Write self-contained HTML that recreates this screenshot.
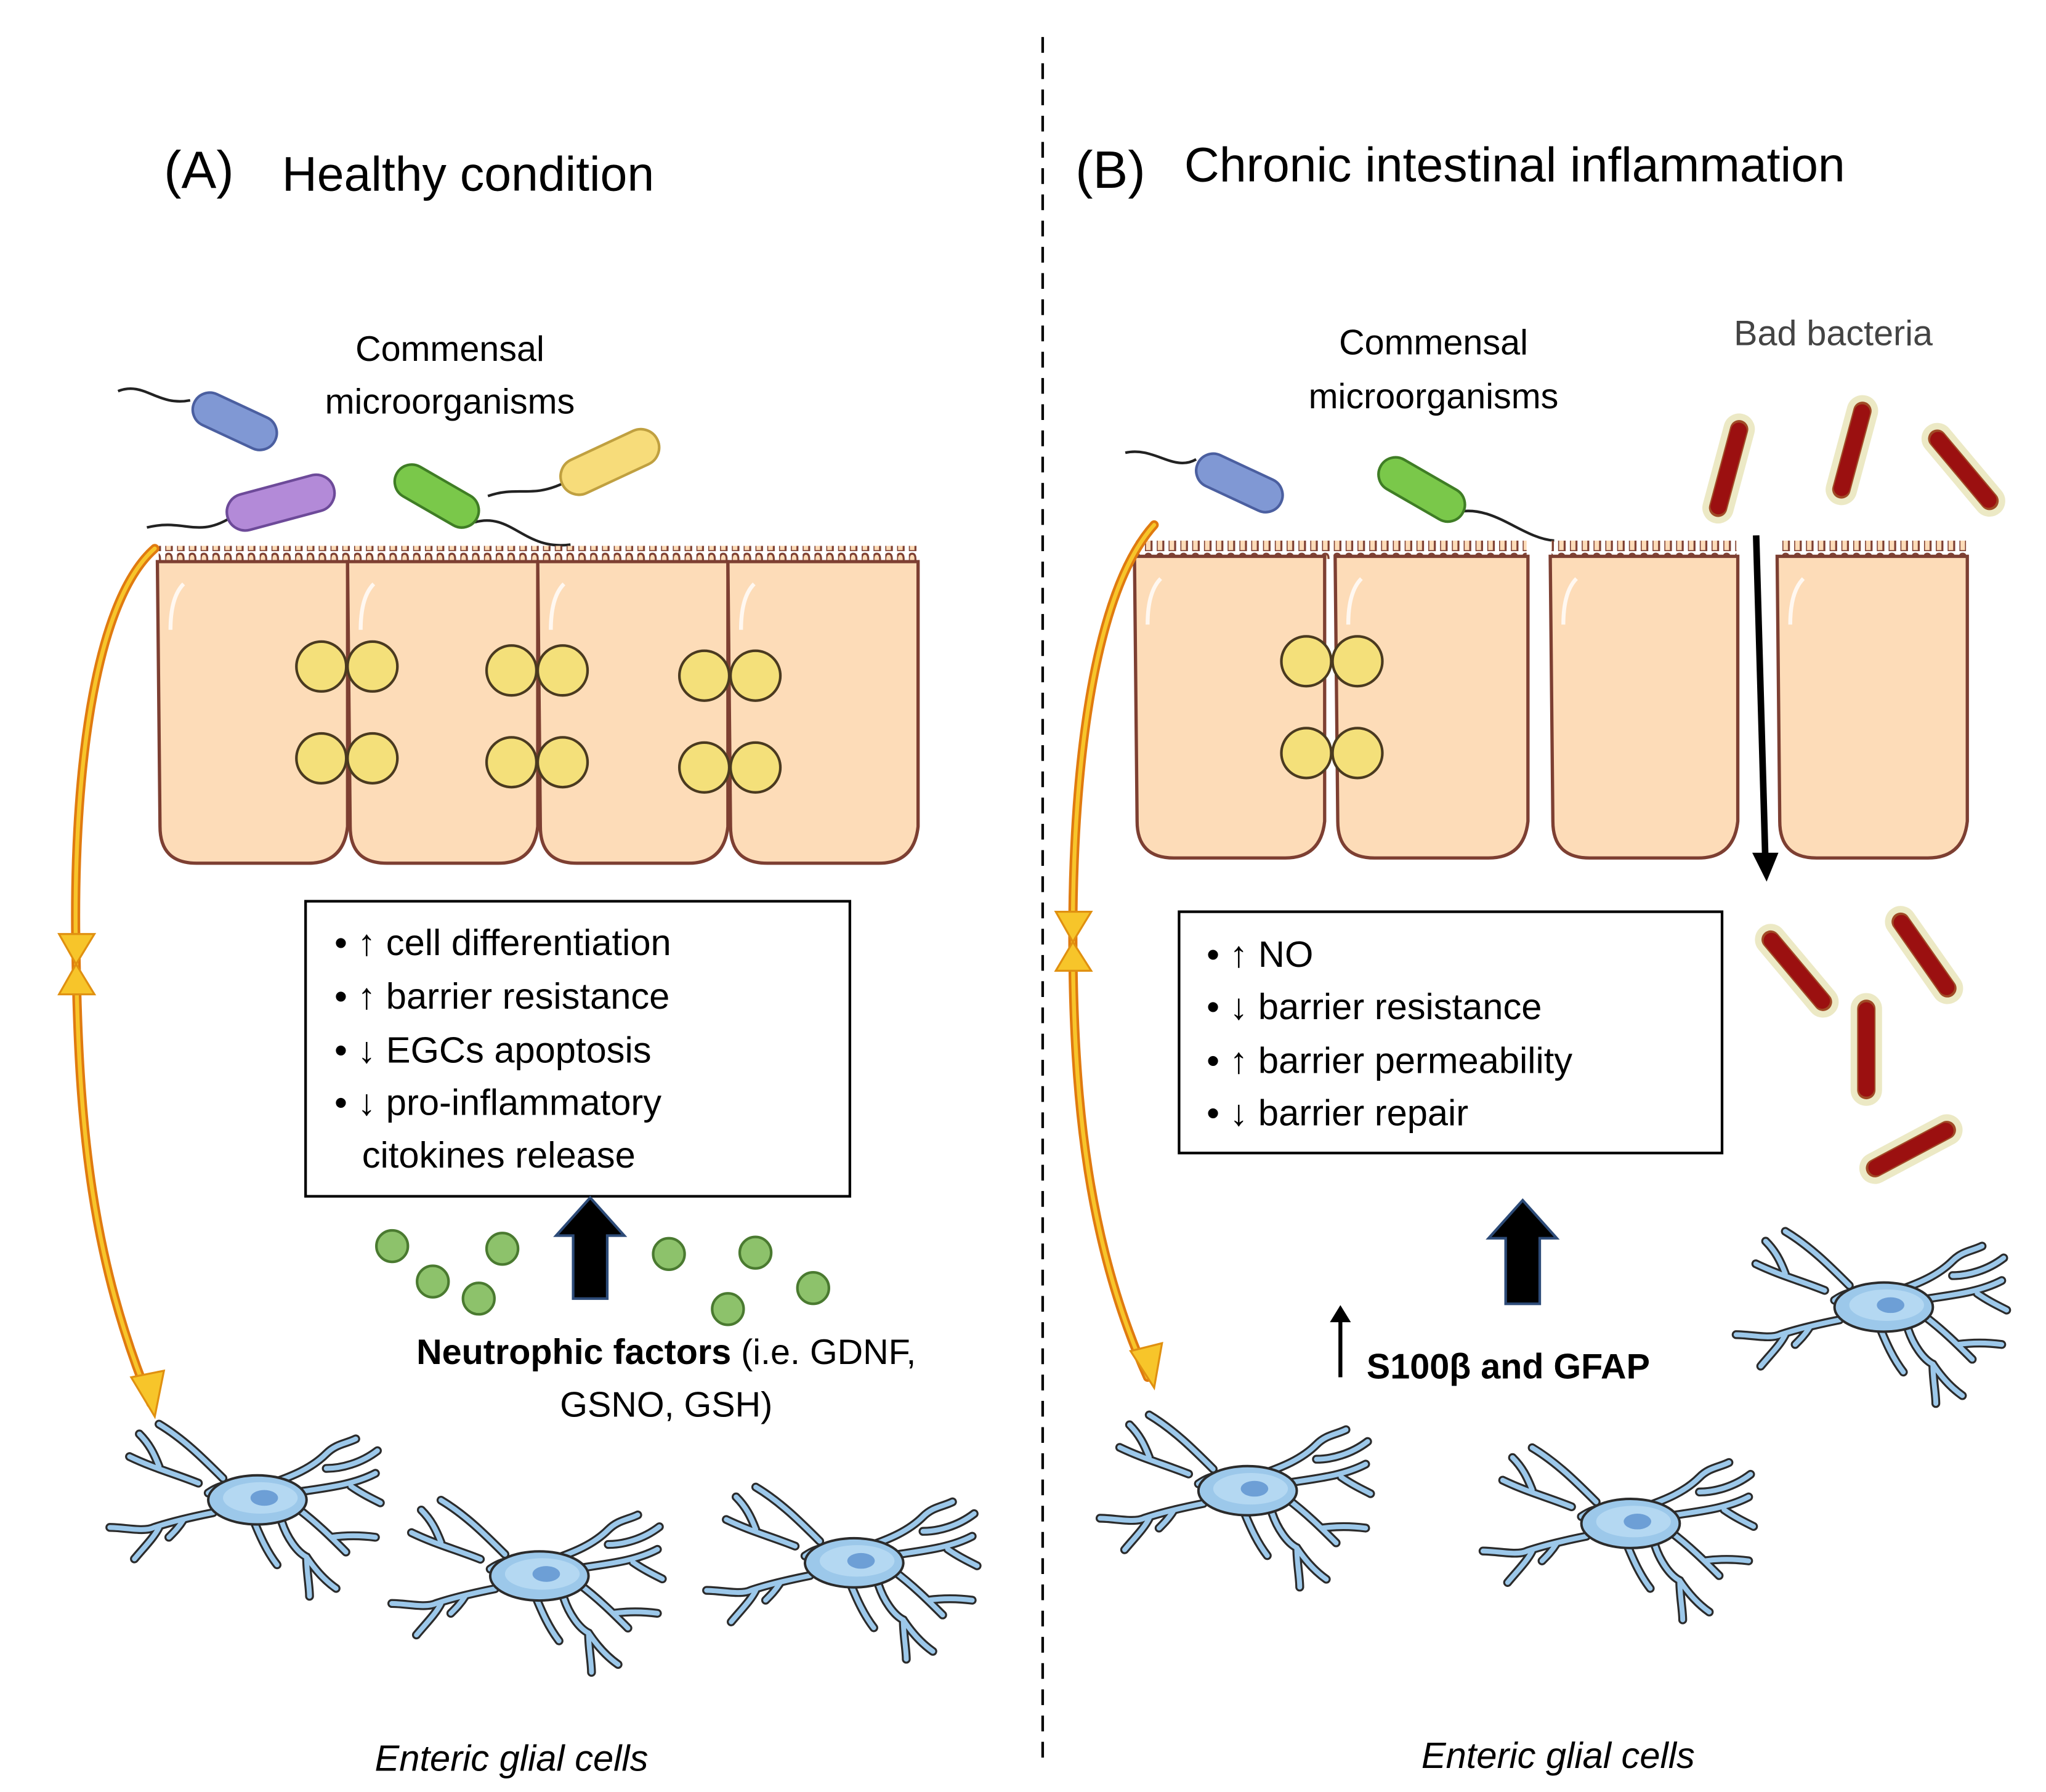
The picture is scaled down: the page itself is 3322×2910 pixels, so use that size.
<!DOCTYPE html>
<html><head><meta charset="utf-8"><style>
html,body{margin:0;padding:0;background:#fff}
svg{display:block}
text{font-family:"Liberation Sans","DejaVu Sans",sans-serif}
</style></head><body>
<svg width="3322" height="2910" viewBox="0 0 1560 1366" xmlns="http://www.w3.org/2000/svg">
<defs>
<pattern id="villi" x="0" y="0" width="9" height="14" patternUnits="userSpaceOnUse">
 <path d="M0,14 L0,6 Q0,2 2.5,2 Q5,2 5,6 L5,14 Z" fill="#fddcb8" stroke="#7d3f32" stroke-width="1.5"/>
</pattern>
<g id="glia">
  <g id="br">
   <path d="M-20,-20 C-40,-40 -60,-60 -85,-75"/>
   <path d="M-45,-15 C-70,-25 -90,-30 -115,-42"/>
   <path d="M-85,-32 C-90,-45 -95,-55 -105,-65"/>
   <path d="M-35,-5 C-25,-12 -15,-15 -5,-12"/>
   <path d="M-30,15 C-55,20 -75,25 -90,30 C-100,35 -120,30 -135,30"/>
   <path d="M-85,30 C-90,40 -100,50 -110,62"/>
   <path d="M-60,22 C-65,30 -70,35 -75,40"/>
   <path d="M10,20 C18,40 25,55 35,68"/>
   <path d="M40,25 C45,40 55,55 65,60 C75,75 85,85 95,92"/>
   <path d="M65,60 C65,75 68,90 68,100"/>
   <path d="M30,-15 C50,-22 70,-30 85,-45 C95,-55 105,-55 115,-60"/>
   <path d="M85,-30 C100,-30 120,-35 137,-48"/>
   <path d="M50,-5 C80,-10 110,-12 135,-25"/>
   <path d="M110,-12 C120,-5 130,0 140,5"/>
   <path d="M55,10 C75,25 90,40 105,55"/>
   <path d="M90,40 C105,38 120,38 135,40"/>
  </g>
</g>
<g id="gl">
 <use href="#br" stroke="#2b2b2b" stroke-width="9" fill="none" stroke-linecap="round"/>
 <use href="#br" stroke="#9cc8ea" stroke-width="5" fill="none" stroke-linecap="round"/>
 <ellipse cx="15" cy="2" rx="50" ry="25" fill="#9cc8ea" stroke="#2b2b2b" stroke-width="2.5"/>
 <ellipse cx="18" cy="0" rx="38" ry="16" fill="#b4d8f2"/>
 <ellipse cx="22" cy="0" rx="14" ry="8" fill="#6d9fd6"/>
</g>
<g id="rod"><rect x="-7" y="-38" width="14" height="76" rx="7" fill="#8a0c0c" stroke="#c9c05a" stroke-width="10" stroke-opacity="0.35"/><rect x="-6" y="-36" width="12" height="72" rx="6" fill="#9b1010"/></g>
</defs>

<line x1="795" y1="28" x2="795" y2="1340" stroke="#000" stroke-width="2" stroke-dasharray="12,8"/>

<text x="125" y="143" font-size="40">(A)</text>
<text x="215" y="145" font-size="37">Healthy condition</text>
<text x="820" y="143" font-size="40">(B)</text>
<text x="903" y="138" font-size="37">Chronic intestinal inflammation</text>

<text x="343" y="275" font-size="27" text-anchor="middle">Commensal</text>
<text x="343" y="315" font-size="27" text-anchor="middle">microorganisms</text>
<text x="1093" y="270" font-size="27" text-anchor="middle">Commensal</text>
<text x="1093" y="311" font-size="27" text-anchor="middle">microorganisms</text>
<text x="1322" y="263" font-size="27" fill="#444">Bad bacteria</text>

<g stroke-width="2">
 <path d="M90,298 C110,290 120,310 145,305" fill="none" stroke="#222"/>
 <rect x="145" y="308" width="68" height="26" rx="13" fill="#8098d4" stroke="#4b5fa0" transform="rotate(25 179 321)"/>
 <path d="M112,402 C140,395 150,410 175,395" fill="none" stroke="#222"/>
 <rect x="172" y="369" width="84" height="28" rx="14" fill="#b38ad8" stroke="#6d4a99" transform="rotate(-15 214 383)"/>
 <path d="M362,398 C390,390 400,420 435,415" fill="none" stroke="#222"/>
 <rect x="298" y="365" width="70" height="26" rx="13" fill="#7ac84a" stroke="#3f7d25" transform="rotate(30 333 378)"/>
 <path d="M372,378 C395,370 405,380 430,368" fill="none" stroke="#222"/>
 <rect x="425" y="338" width="80" height="28" rx="14" fill="#f7dc7a" stroke="#c0a040" transform="rotate(-25 465 352)"/>
 <path d="M858,345 C880,340 895,360 912,350" fill="none" stroke="#222"/>
 <rect x="910" y="355" width="70" height="26" rx="13" fill="#8098d4" stroke="#4b5fa0" transform="rotate(25 945 368)"/>
 <path d="M1112,390 C1140,385 1160,410 1185,412" fill="none" stroke="#222"/>
 <rect x="1048" y="360" width="72" height="26" rx="13" fill="#7ac84a" stroke="#3f7d25" transform="rotate(30 1084 373)"/>
</g>

<!-- microvilli -->
<rect x="121" y="416" width="579" height="14" fill="url(#villi)"/>
<rect x="866" y="412" width="298" height="14" fill="url(#villi)"/>
<rect x="1183" y="412" width="141" height="14" fill="url(#villi)"/>
<rect x="1356" y="412" width="143" height="14" fill="url(#villi)"/>

<g fill="#fddcb8" stroke="#7d3f32" stroke-width="2.5">
 <path d="M120,428 L265,428 L265,630 Q262,658 235,658 L150,658 Q122,658 122,630 Z"/>
 <path d="M265,428 L410,428 L410,630 Q407,658 380,658 L295,658 Q267,658 267,630 Z"/>
 <path d="M410,428 L555,428 L555,630 Q552,658 525,658 L440,658 Q412,658 412,630 Z"/>
 <path d="M555,428 L700,428 L700,630 Q697,658 670,658 L585,658 Q557,658 557,630 Z"/>
 <path d="M865,424 L1010,424 L1010,626 Q1007,654 980,654 L895,654 Q867,654 867,626 Z"/>
 <path d="M1018,424 L1165,424 L1165,626 Q1162,654 1135,654 L1048,654 Q1020,654 1020,626 Z"/>
 <path d="M1182,424 L1325,424 L1325,626 Q1322,654 1295,654 L1212,654 Q1184,654 1184,626 Z"/>
 <path d="M1355,424 L1500,424 L1500,626 Q1497,654 1470,654 L1385,654 Q1357,654 1357,626 Z"/>
</g>
<g fill="none" stroke="#fff" stroke-width="3" opacity="0.8">
 <path d="M140,445 Q130,455 130,480"/><path d="M285,445 Q275,455 275,480"/><path d="M430,445 Q420,455 420,480"/><path d="M575,445 Q565,455 565,480"/>
 <path d="M885,441 Q875,451 875,476"/><path d="M1038,441 Q1028,451 1028,476"/><path d="M1202,441 Q1192,451 1192,476"/><path d="M1375,441 Q1365,451 1365,476"/>
</g>

<g fill="#f4e07a" stroke="#4a3a20" stroke-width="2">
 <circle cx="245" cy="508" r="19"/><circle cx="284" cy="508" r="19"/>
 <circle cx="245" cy="578" r="19"/><circle cx="284" cy="578" r="19"/>
 <circle cx="390" cy="511" r="19"/><circle cx="429" cy="511" r="19"/>
 <circle cx="390" cy="581" r="19"/><circle cx="429" cy="581" r="19"/>
 <circle cx="537" cy="515" r="19"/><circle cx="576" cy="515" r="19"/>
 <circle cx="537" cy="585" r="19"/><circle cx="576" cy="585" r="19"/>
 <circle cx="996" cy="504" r="19"/><circle cx="1035" cy="504" r="19"/>
 <circle cx="996" cy="574" r="19"/><circle cx="1035" cy="574" r="19"/>
</g>

<g fill="none" stroke-linecap="round">
 <path d="M118,418 C70,460 55,600 58,730 C60,860 70,960 115,1070" stroke="#e07a10" stroke-width="7"/>
 <path d="M118,418 C70,460 55,600 58,730 C60,860 70,960 115,1070" stroke="#f7c52a" stroke-width="3"/>
 <path d="M880,400 C835,450 818,580 818,712 C818,840 830,950 875,1050" stroke="#e07a10" stroke-width="7"/>
 <path d="M880,400 C835,450 818,580 818,712 C818,840 830,950 875,1050" stroke="#f7c52a" stroke-width="3"/>
</g>
<g fill="#f7c52a" stroke="#e09010" stroke-width="1.5">
 <polygon points="45,712 72,712 58,735"/><polygon points="45,758 72,758 58,735"/>
 <polygon points="805,695 832,695 818,718"/><polygon points="805,740 832,740 818,718"/>
 <polygon points="100,1050 125,1045 118,1080"/>
 <polygon points="862,1030 886,1024 880,1058"/>
</g>

<rect x="233" y="687" width="415" height="225" fill="#fff" stroke="#000" stroke-width="2"/>
<g font-size="28">
 <text x="255" y="728">•  ↑ cell differentiation</text>
 <text x="255" y="769">•  ↑ barrier resistance</text>
 <text x="255" y="810">•  ↓ EGCs apoptosis</text>
 <text x="255" y="850">•  ↓ pro-inflammatory</text>
 <text x="276" y="890">citokines release</text>
</g>
<rect x="899" y="695" width="414" height="184" fill="#fff" stroke="#000" stroke-width="2"/>
<g font-size="28">
 <text x="920" y="737">•  ↑ NO</text>
 <text x="920" y="777">•  ↓ barrier resistance</text>
 <text x="920" y="818">•  ↑ barrier permeability</text>
 <text x="920" y="858">•  ↓ barrier repair</text>
</g>

<g fill="#8dc26b" stroke="#4a7a30" stroke-width="2">
 <circle cx="299" cy="950" r="12"/><circle cx="330" cy="977" r="12"/><circle cx="365" cy="990" r="12"/><circle cx="383" cy="952" r="12"/>
 <circle cx="510" cy="956" r="12"/><circle cx="576" cy="955" r="12"/><circle cx="620" cy="982" r="12"/><circle cx="555" cy="998" r="12"/>
</g>

<polygon points="450,913 476,942 463,942 463,990 437,990 437,942 424,942" fill="#000" stroke="#2d4b78" stroke-width="2"/>
<polygon points="1161,915 1187,944 1174,944 1174,994 1148,994 1148,944 1135,944" fill="#000" stroke="#2d4b78" stroke-width="2"/>

<text x="508" y="1040" font-size="27" text-anchor="middle"><tspan font-weight="bold">Neutrophic factors</tspan> (i.e. GDNF,</text>
<text x="508" y="1080" font-size="27" text-anchor="middle">GSNO, GSH)</text>

<line x1="1022" y1="1050" x2="1022" y2="1003" stroke="#000" stroke-width="3"/>
<polygon points="1014,1008 1022,995 1030,1008" fill="#000"/>
<text x="1042" y="1051" font-size="27" font-weight="bold">S100β and GFAP</text>

<line x1="1339" y1="408" x2="1346" y2="655" stroke="#000" stroke-width="5"/>
<polygon points="1336,650 1356,650 1347,672" fill="#000"/>

<use href="#rod" transform="translate(1318,357) rotate(15)"/>
<use href="#rod" transform="translate(1412,343) rotate(15)"/>
<use href="#rod" transform="translate(1497,358) rotate(-40)"/>
<use href="#rod" transform="translate(1370,740) rotate(-40)"/>
<use href="#rod" transform="translate(1467,728) rotate(-35)"/>
<use href="#rod" transform="translate(1423,800) rotate(0)"/>
<use href="#rod" transform="translate(1457,876) rotate(62)"/>

<use href="#gl" transform="translate(185,1142) scale(0.75)"/>
<use href="#gl" transform="translate(400,1200) scale(0.75)"/>
<use href="#gl" transform="translate(640,1190) scale(0.75)"/>
<use href="#gl" transform="translate(940,1135) scale(0.75)"/>
<use href="#gl" transform="translate(1232,1160) scale(0.75)"/>
<use href="#gl" transform="translate(1425,995) scale(0.75)"/>

<text x="390" y="1350" font-size="28" font-style="italic" text-anchor="middle">Enteric glial cells</text>
<text x="1188" y="1348" font-size="28" font-style="italic" text-anchor="middle">Enteric glial cells</text>
</svg>
</body></html>
